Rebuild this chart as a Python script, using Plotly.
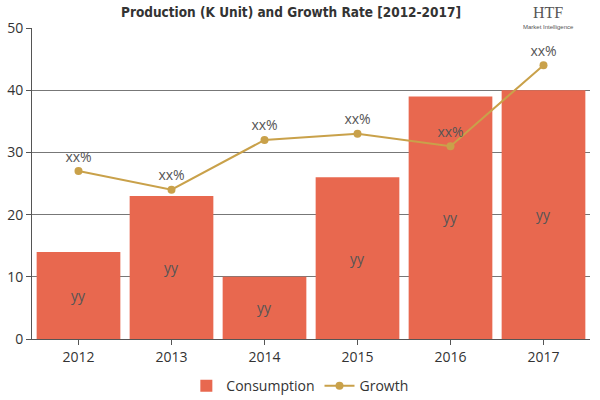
import plotly.graph_objects as go

years = ["2012", "2013", "2014", "2015", "2016", "2017"]
consumption = [14, 23, 10, 26, 39, 40]
growth = [27, 24, 32, 33, 31, 44]
bar_labels = ["yy"] * 6
line_labels = ["xx%"] * 6

fig = go.Figure()
fig.add_trace(go.Bar(
    x=years, y=consumption, name="Consumption",
    marker=dict(color="#E8684F", line=dict(width=0)),
    text=bar_labels, textposition="inside", insidetextanchor="middle",
    textfont=dict(color="#555555", size=14, family="Open Sans"),
    width=0.9,
))
fig.add_trace(go.Scatter(
    x=years, y=growth, name="Growth", mode="lines+markers+text",
    line=dict(color="#C9A14A", width=2),
    marker=dict(color="#C9A14A", size=8),
    text=line_labels, textposition="top center",
    textfont=dict(color="#555555", size=14, family="Open Sans"),
))

fig.update_layout(
    width=600, height=400,
    margin=dict(l=32, r=10, t=28, b=61, autoexpand=False),
    paper_bgcolor="white", plot_bgcolor="white",
    title=dict(text="<b>Production (K Unit) and Growth Rate [2012-2017]</b>",
               x=0.485, xanchor="center", y=0.982, yanchor="top",
               font=dict(family="DejaVu Sans Condensed, sans-serif", size=13.5, color="#333333")),
    showlegend=True,
    legend=dict(orientation="h", x=0.48, xanchor="center", y=-0.1, yanchor="top",
                font=dict(family="Open Sans", size=14, color="#333333")),
    bargap=0.1,
    font=dict(family="Open Sans", color="#333333"),
)
fig.update_yaxes(range=[0, 50], dtick=10, showgrid=True, gridcolor="#777777", gridwidth=1,
                 showline=True, linecolor="#555555", ticks="outside", ticklen=5, tickcolor="#555555",
                 tickfont=dict(size=14, color="#333333"), zeroline=False, automargin=False)
fig.update_xaxes(showline=True, linecolor="#555555", ticks="outside", ticklen=5, tickcolor="#555555",
                 tickfont=dict(size=14, color="#333333"), automargin=False)

fig.add_annotation(text="HTF", xref="paper", yref="paper", x=0.955, y=1.085, showarrow=False,
                   font=dict(family="Liberation Serif", size=16, color="#555555"))
fig.add_annotation(text="Market Intelligence", xref="paper", yref="paper", x=0.975, y=1.02, showarrow=False,
                   font=dict(family="Liberation Sans", size=6, color="#555555"))

fig.write_html("out.html", config={"displayModeBar": False},
               post_script="document.body.style.margin='0';document.body.style.overflow='hidden';")
